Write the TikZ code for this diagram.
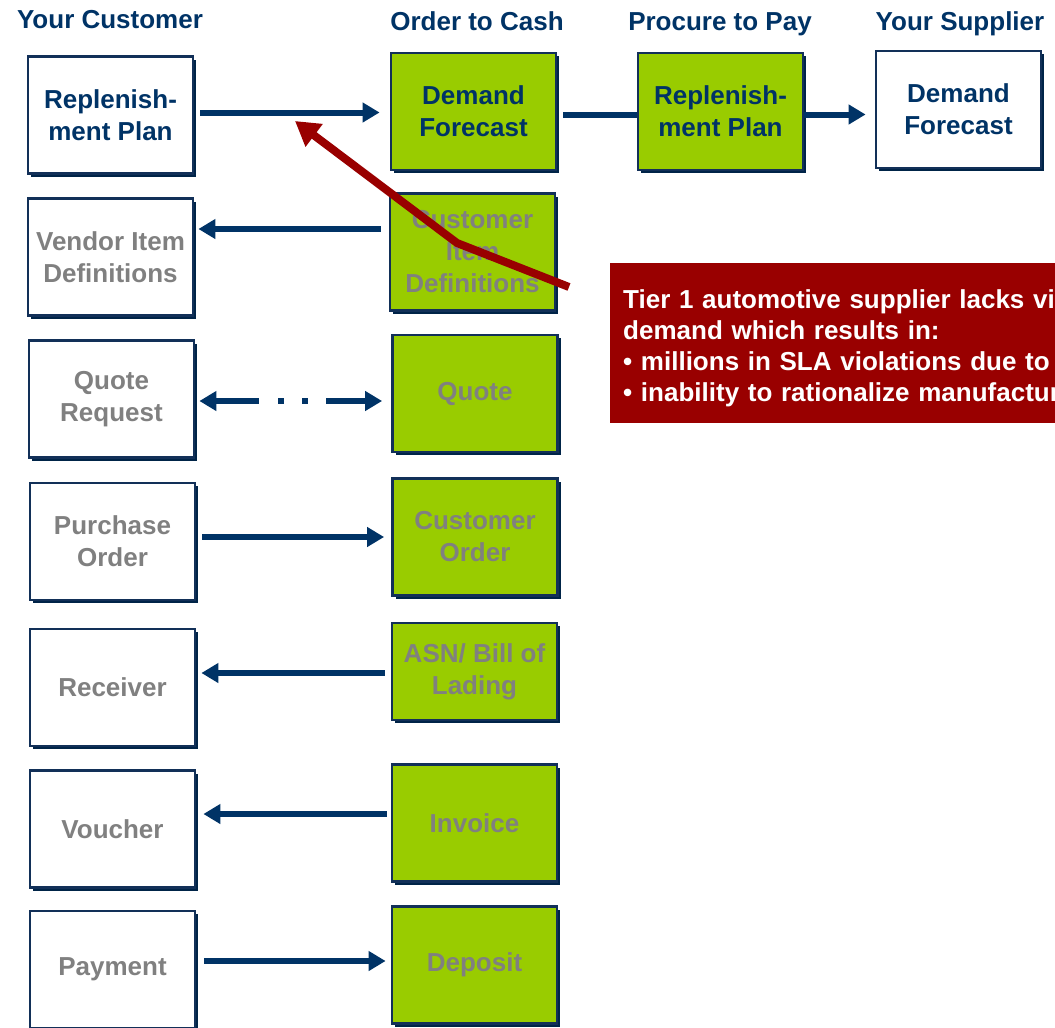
\documentclass[tikz,border=0pt]{standalone}
\usepackage{fontspec}
\setmainfont{Liberation Sans}
\usetikzlibrary{arrows.meta,calc,shadows}
\definecolor{navy}{RGB}{0,51,102}
\definecolor{boxedge}{RGB}{18,48,88}
\definecolor{shadowc}{RGB}{0,36,72}
\definecolor{lime}{RGB}{153,204,0}
\definecolor{darkred}{RGB}{153,0,0}
\definecolor{greytext}{RGB}{128,128,128}
\begin{document}
\begin{tikzpicture}[x=1pt,y=-1pt,
  font=\fontsize{26}{32}\selectfont\bfseries,
  box/.style={rectangle, draw=boxedge, line width=2.8pt, minimum width=165pt,
    minimum height=117pt, align=center, inner sep=0pt, fill=white,
    drop shadow={shadow xshift=3pt, shadow yshift=-3pt, fill=shadowc, opacity=1}},
  gbox/.style={box, fill=lime},
  hdr/.style={anchor=base, text=navy},
  arr/.style={draw=navy, line width=6pt, -{Triangle[length=17pt,width=19pt]}},
  link/.style={draw=navy, line width=6pt},
  redarr/.style={draw=darkred, line width=8pt, -{Triangle[length=24pt,width=27pt]}},
  calloutbox/.style={rectangle, fill=darkred, minimum width=460pt, minimum height=160pt, inner sep=0pt},
  callouttext/.style={text=white, text width=600pt, align=left, inner sep=0pt,
    font=\fontsize{26}{31.3}\selectfont\bfseries}
]
\useasboundingbox (0,0) rectangle (1055,1028);
\clip (0,0) rectangle (1055,1028);

% headers
\node[hdr] (h1) at (110,28) {Your Customer};
\node[hdr] (h2) at (477,30) {Order to Cash};
\node[hdr] (h3) at (720,30) {Procure to Pay};
\node[hdr] (h4) at (960,30) {Your Supplier};

% left column
\node[box, text=navy] (L1) at (110.5,115) {Replenish-\\ment Plan};
\node[box, text=greytext] (L2) at (110.5,257) {Vendor Item\\Definitions};
\node[box, text=greytext] (L3) at (111.5,399) {Quote\\Request};
\node[box, text=greytext] (L4) at (112.5,541.5) {Purchase\\Order};
\node[box, text=greytext] (L5) at (112.5,687.5) {Receiver};
\node[box, text=greytext] (L6) at (112.5,829) {Voucher};
\node[box, text=greytext] (L7) at (112.5,969.5) {Payment};

% middle column
\node[gbox, text=navy] (M1) at (473.5,111.5) {Demand\\Forecast};
\node[gbox, text=greytext] (M2) at (472.5,252) {Customer\\Item\\Definitions};
\node[gbox, text=greytext] (M3) at (475,393.5) {Quote};
\node[gbox, text=greytext] (M4) at (475,537) {Customer\\Order};
\node[gbox, text=greytext, minimum height=97pt] (M5) at (474.5,671.5) {ASN/ Bill of\\Lading};
\node[gbox, text=greytext] (M6) at (474.5,823) {Invoice};
\node[gbox, text=greytext] (M7) at (474.5,965) {Deposit};

% top row right
\node[gbox, text=navy] (P1) at (720.5,111.5) {Replenish-\\ment Plan};
\node[box, text=navy] (S1) at (958.5,109.5) {Demand\\Forecast};

% connectors
\draw[arr, shorten <=6pt, shorten >=10pt] ($(L1.east |- M1.west)+(0,1)$) -- ($(M1.west)+(0,1)$);
\draw[link, shorten <=6pt] ($(M1.east)+(0,3)$) -- ($(P1.west |- M1.east)+(0,3)$);
\draw[arr, shorten >=9pt] ($(P1.east)+(0,3)$) -- ($(S1.west |- P1.east)+(0,3)$);
\draw[arr, shorten <=8pt, shorten >=4pt] ($(M2.west)+(0,-23)$) -- ($(L2.east |- M2.west)+(0,-23)$);
\draw[draw=navy, line width=6pt, {Triangle[length=17pt,width=19pt]}-{Triangle[length=17pt,width=19pt]},
  dash pattern=on 44pt off 19pt on 6pt off 18pt on 6pt off 18pt on 300pt off 1pt,
  shorten <=4pt, shorten >=9pt] ($(L3.east)+(0,2)$) -- ($(L3.east -| M3.west)+(0,2)$);
\draw[arr, shorten <=6pt, shorten >=7pt] (L4.east |- M4.west) -- (M4.west);
\draw[arr, shorten <=6pt, shorten >=5pt] ($(M5.west)+(0,1.5)$) -- ($(L5.east |- M5.west)+(0,1.5)$);
\draw[arr, shorten <=4pt, shorten >=7pt] ($(M6.west)+(0,-9)$) -- ($(L6.east |- M6.west)+(0,-9)$);
\draw[arr, shorten <=8pt, shorten >=5pt] ($(L7.east |- M7.west)+(0,-4)$) -- ($(M7.west)+(0,-4)$);

% callout
\node[calloutbox, anchor=north west] (C) at (610,263) {};
\node[callouttext, anchor=north west] (Ct) at (623,289) {Tier 1 automotive supplier lacks vi\\demand which results in:\\\textbullet\ millions in SLA violations due to\\\textbullet\ inability to rationalize manufactur};

% red arrow
\coordinate (rs) at (569,287);
\coordinate (rb) at (457,243);
\coordinate (rt) at (295,121);
\draw[redarr] (rs) -- (rb) -- (rt);
\end{tikzpicture}
\end{document}
